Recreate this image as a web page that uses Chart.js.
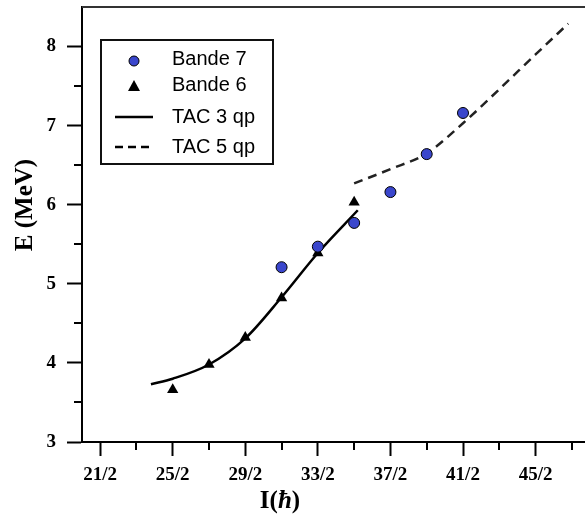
<!DOCTYPE html>
<html>
<head>
<meta charset="utf-8">
<script src="https://cdn.jsdelivr.net/npm/chart.js@4.4.0/dist/chart.umd.min.js"></script>
<style>
    html, body { margin: 0; padding: 0; background: #fff; overflow: hidden; }
    #wrap { width: 585px; height: 515px; overflow: hidden; }
</style>
</head>
<body>
<div id="wrap">
    <canvas id="tac-chart" width="590" height="515"></canvas>
</div>
<script>
// === Data (spin in units of hbar, energy in MeV) ===
const band7Spins = [15.5, 16.5, 17.5, 18.5, 19.5, 20.5];
const band7Energies = [5.21, 5.47, 5.77, 6.16, 6.64, 7.16];

const band6Spins = [12.5, 13.5, 14.5, 15.5, 16.5, 17.5];
const band6Energies = [3.66, 3.98, 4.32, 4.82, 5.39, 6.03];

const tac3Spins = [11.9, 12.5, 13.5, 14.5, 15.5, 16.5, 17.6];
const tac3Energies = [3.73, 3.80, 3.98, 4.31, 4.83, 5.39, 5.93];

const tac5Spins = [17.5, 18.5, 19.5, 20.5, 21.5, 22.5, 23.4];
const tac5Energies = [6.27, 6.45, 6.65, 7.03, 7.46, 7.90, 8.29];

// tick labels
const xTickValues = [10.5, 12.5, 14.5, 16.5, 18.5, 20.5, 22.5];
const xTickLabels = ['21/2', '25/2', '29/2', '33/2', '37/2', '41/2', '45/2'];
const xMinorTicks = [11.5, 13.5, 15.5, 17.5, 19.5, 21.5, 23.5];
const yTickValues = [3, 4, 5, 6, 7, 8];
const yMinorTicks = [3.5, 4.5, 5.5, 6.5, 7.5];

const legendLabels = ['Bande 7', 'Bande 6', 'TAC 3 qp', 'TAC 5 qp'];

function toPoints(xs, ys) {
    return xs.map((x, i) => ({ x: x, y: ys[i] }));
}

const BLUE = '#3a46cc';
const TITLE_FONT = 'bold 25px "Liberation Serif", serif';

// === Minor ticks, frame, axis titles and legend ===
const decorPlugin = {
    id: 'decor',
    afterDraw(chart) {
        const ctx = chart.ctx;
        const area = chart.chartArea;
        const xs = chart.scales.x;
        const ys = chart.scales.y;

        ctx.save();
        ctx.strokeStyle = '#000';
        ctx.lineWidth = 2;

        // minor ticks
        xMinorTicks.forEach(v => {
            const px = Math.round(xs.getPixelForValue(v));
            ctx.beginPath();
            ctx.moveTo(px, area.bottom);
            ctx.lineTo(px, area.bottom + 8);
            ctx.stroke();
        });
        yMinorTicks.forEach(v => {
            const py = Math.round(ys.getPixelForValue(v));
            ctx.beginPath();
            ctx.moveTo(area.left, py);
            ctx.lineTo(area.left - 8, py);
            ctx.stroke();
        });

        // top frame line
        ctx.strokeStyle = '#333';
        ctx.beginPath();
        ctx.moveTo(area.left, area.top);
        ctx.lineTo(area.right, area.top);
        ctx.stroke();

        // axis titles
        ctx.fillStyle = '#000';
        ctx.textAlign = 'center';
        ctx.textBaseline = 'middle';
        ctx.font = TITLE_FONT;
        ctx.save();
        ctx.translate(26, 205);
        ctx.rotate(-Math.PI / 2);
        ctx.fillText('E (MeV)', 0, 0);
        ctx.restore();

        ctx.textAlign = 'left';
        ctx.font = TITLE_FONT;
        const w1 = ctx.measureText('I(').width;
        ctx.font = 'italic ' + TITLE_FONT;
        const w2 = ctx.measureText('ħ').width;
        ctx.font = TITLE_FONT;
        const w3 = ctx.measureText(')').width;
        const tx = 280 - (w1 + w2 + w3) / 2;
        ctx.fillText('I(', tx, 502);
        ctx.font = 'italic ' + TITLE_FONT;
        ctx.fillText('ħ', tx + w1, 502);
        ctx.font = TITLE_FONT;
        ctx.fillText(')', tx + w1 + w2, 502);

        // legend box
        ctx.strokeStyle = '#111';
        ctx.lineWidth = 2;
        ctx.strokeRect(101, 40, 172, 124);

        const rows = [61, 86, 117, 147];
        const mx = 134;
        // circle
        ctx.beginPath();
        ctx.arc(mx, rows[0], 5, 0, Math.PI * 2);
        ctx.fillStyle = BLUE;
        ctx.fill();
        ctx.lineWidth = 1;
        ctx.strokeStyle = '#000';
        ctx.stroke();
        // triangle
        ctx.beginPath();
        ctx.moveTo(mx, rows[1] - 6);
        ctx.lineTo(mx + 6, rows[1] + 5);
        ctx.lineTo(mx - 6, rows[1] + 5);
        ctx.closePath();
        ctx.fillStyle = '#000';
        ctx.fill();
        // solid line
        ctx.lineWidth = 2.5;
        ctx.beginPath();
        ctx.moveTo(115, rows[2]);
        ctx.lineTo(153, rows[2]);
        ctx.stroke();
        // dashed line
        ctx.setLineDash([8, 5]);
        ctx.beginPath();
        ctx.moveTo(115, rows[3]);
        ctx.lineTo(153, rows[3]);
        ctx.stroke();
        ctx.setLineDash([]);

        ctx.font = '20px "Liberation Sans", Arial, sans-serif';
        ctx.fillStyle = '#000';
        ctx.textBaseline = 'alphabetic';
        ctx.textAlign = 'left';
        const baselines = [65, 91, 123, 153];
        legendLabels.forEach((t, i) => ctx.fillText(t, 172, baselines[i]));

        ctx.restore();
    }
};

// === Chart ===
const ctx = document.getElementById('tac-chart').getContext('2d');

new Chart(ctx, {
    type: 'scatter',
    data: {
        datasets: [
            {
                label: legendLabels[0],
                data: toPoints(band7Spins, band7Energies),
                pointStyle: 'circle',
                pointRadius: 5.5,
                pointBackgroundColor: BLUE,
                pointBorderColor: '#000',
                pointBorderWidth: 1,
                order: 0,
            },
            {
                label: legendLabels[1],
                data: toPoints(band6Spins, band6Energies),
                pointStyle: 'triangle',
                pointRadius: 6.5,
                pointBackgroundColor: '#000',
                pointBorderColor: '#000',
                pointBorderWidth: 0,
                order: 0,
            },
            {
                label: legendLabels[2],
                data: toPoints(tac3Spins, tac3Energies),
                showLine: true,
                pointRadius: 0,
                borderColor: '#000',
                borderWidth: 2.5,
                cubicInterpolationMode: 'monotone',
                order: 1,
            },
            {
                label: legendLabels[3],
                data: toPoints(tac5Spins, tac5Energies),
                showLine: true,
                pointRadius: 0,
                borderColor: '#222',
                borderWidth: 2.5,
                borderDash: [9, 6],
                cubicInterpolationMode: 'monotone',
                order: 1,
            },
        ]
    },
    options: {
        responsive: false,
        animation: false,
        layout: {
            autoPadding: false,
            padding: { top: 7, right: 0, bottom: 0, left: 0 },
        },
        plugins: {
            legend: { display: false },
            tooltip: { enabled: false },
        },
        scales: {
            x: {
                type: 'linear',
                min: 10,
                max: 24,
                afterFit: s => {
                    s.height = 73;
                    s.paddingLeft = 0;
                    s.paddingRight = 0;
                },
                afterBuildTicks: s => { s.ticks = xTickValues.map(v => ({ value: v })); },
                ticks: {
                    padding: 8,
                    color: '#000',
                    font: { family: '"Liberation Serif", serif', size: 19, weight: 'bold' },
                    callback: function(value) {
                        const i = xTickValues.indexOf(value);
                        return i >= 0 ? xTickLabels[i] : '';
                    },
                },
                grid: {
                    drawOnChartArea: false,
                    drawTicks: true,
                    tickLength: 14,
                    tickColor: '#000',
                    tickWidth: 2,
                },
                border: { display: true, color: '#000', width: 2 },
            },
            y: {
                type: 'linear',
                min: 3,
                max: 8.5,
                afterFit: s => {
                    s.width = 82;
                    s.paddingTop = 0;
                    s.paddingBottom = 0;
                },
                afterBuildTicks: s => { s.ticks = yTickValues.map(v => ({ value: v })); },
                ticks: {
                    padding: 11,
                    color: '#000',
                    font: { family: '"Liberation Serif", serif', size: 19, weight: 'bold' },
                },
                grid: {
                    drawOnChartArea: false,
                    drawTicks: true,
                    tickLength: 15,
                    tickColor: '#000',
                    tickWidth: 2,
                },
                border: { display: true, color: '#000', width: 2 },
            },
        },
    },
    plugins: [decorPlugin],
});
</script>
</body>
</html>
